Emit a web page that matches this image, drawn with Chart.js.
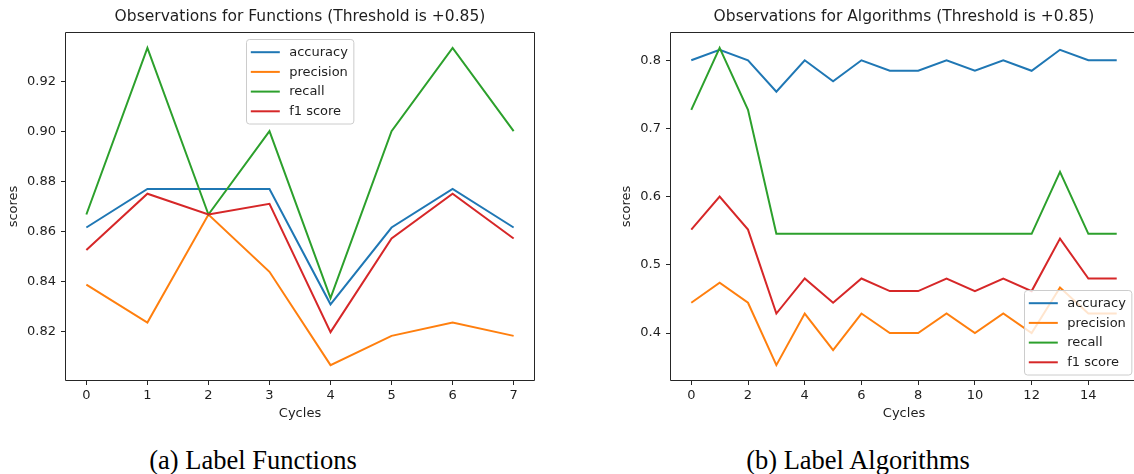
<!DOCTYPE html>
<html><head><meta charset="utf-8">
<script src="https://cdn.jsdelivr.net/npm/chart.js@4.4.1/dist/chart.umd.min.js"></script>
<style>
html,body{margin:0;padding:0;background:#fff;overflow:hidden;width:1134px;height:474px;}
#wrap{position:relative;width:1134px;height:474px;overflow:hidden;background:#fff;}
.cv{position:absolute;top:0;}
.cap{position:absolute;font-family:"Liberation Serif","Times New Roman",serif;font-size:26.5px;color:#000;white-space:nowrap;transform:translate(-50%,-50%);line-height:1;}
</style></head>
<body><div id="wrap">
<div class="cv" style="left:0px;width:560px;height:430px"><canvas id="c1" width="560" height="430"></canvas></div>
<div class="cv" style="left:600px;width:545px;height:430px"><canvas id="c2" width="545" height="430"></canvas></div>
<div class="cap" style="left:253px;top:460px">(a) Label Functions</div>
<div class="cap" style="left:858px;top:460px">(b) Label Algorithms</div>
</div>
<script>
// ---------- data ----------
const seriesNames = ['accuracy', 'precision', 'recall', 'f1 score'];
const seriesColors = ['#1f77b4', '#ff7f0e', '#2ca02c', '#d62728'];

// (a) Label Functions
const titleA = 'Observations for Functions (Threshold is +0.85)';
const cyclesA = [0, 1, 2, 3, 4, 5, 6, 7];
const accuracyA  = [0.8615, 0.8769, 0.8769, 0.8769, 0.8308, 0.8615, 0.8769, 0.8615];
const precisionA = [0.8387, 0.8235, 0.8667, 0.8438, 0.8065, 0.8182, 0.8235, 0.8182];
const recallA    = [0.8667, 0.9333, 0.8667, 0.9000, 0.8333, 0.9000, 0.9333, 0.9000];
const f1A        = [0.8525, 0.8750, 0.8667, 0.8710, 0.8197, 0.8571, 0.8750, 0.8571];
const xTicksA = [0, 1, 2, 3, 4, 5, 6, 7];
const yTicksA = [0.82, 0.84, 0.86, 0.88, 0.90, 0.92];
const yTickLabelsA = ['0.82', '0.84', '0.86', '0.88', '0.90', '0.92'];

// (b) Label Algorithms
const titleB = 'Observations for Algorithms (Threshold is +0.85)';
const cyclesB = [0, 1, 2, 3, 4, 5, 6, 7, 8, 9, 10, 11, 12, 13, 14, 15];
const accuracyB  = [0.8000, 0.8154, 0.8000, 0.7538, 0.8000, 0.7692, 0.8000, 0.7846, 0.7846, 0.8000, 0.7846, 0.8000, 0.7846, 0.8154, 0.8000, 0.8000];
const precisionB = [0.4444, 0.4737, 0.4444, 0.3529, 0.4286, 0.3750, 0.4286, 0.4000, 0.4000, 0.4286, 0.4000, 0.4286, 0.4000, 0.4667, 0.4286, 0.4286];
const recallB    = [0.7273, 0.8182, 0.7273, 0.5455, 0.5455, 0.5455, 0.5455, 0.5455, 0.5455, 0.5455, 0.5455, 0.5455, 0.5455, 0.6364, 0.5455, 0.5455];
const f1B        = [0.5517, 0.6000, 0.5517, 0.4286, 0.4800, 0.4444, 0.4800, 0.4615, 0.4615, 0.4800, 0.4615, 0.4800, 0.4615, 0.5385, 0.4800, 0.4800];
const xTicksB = [0, 2, 4, 6, 8, 10, 12, 14];
const yTicksB = [0.4, 0.5, 0.6, 0.7, 0.8];
const yTickLabelsB = ['0.4', '0.5', '0.6', '0.7', '0.8'];

// ---------- helpers ----------
const FONT = '"DejaVu Sans", "Liberation Sans", sans-serif';
const TXT = '#1e1e1e';

function padLimits(vals) {
  const lo = Math.min(...vals), hi = Math.max(...vals);
  const m = (hi - lo) * 0.05;
  return [lo - m, hi + m];
}

const frame = {
  id: 'frame',
  afterDatasetsDraw(chart, args, opts) {
    const {ctx, chartArea: a} = chart;
    ctx.save();
    ctx.strokeStyle = '#262626';
    ctx.lineWidth = 1;
    const l = Math.round(a.left) + 0.5, r = Math.round(a.right) - 0.5;
    const t = Math.round(a.top) + 0.5, b = Math.round(a.bottom) - 0.5;
    ctx.beginPath();
    ctx.moveTo(l, b); ctx.lineTo(l, t); ctx.lineTo(r, t);
    if (opts.right) ctx.lineTo(r, b); else ctx.moveTo(r, b);
    ctx.lineTo(l, b);
    ctx.stroke();
    ctx.restore();
  }
};

const mplLegend = {
  id: 'mplLegend',
  afterDraw(chart, args, opts) {
    const {ctx, chartArea: a} = chart;
    const fs = 13;
    ctx.save();
    ctx.font = fs + 'px ' + FONT;
    const ds = chart.data.datasets;
    const labels = ds.map(d => d.label);
    const tw = Math.max(...labels.map(l => ctx.measureText(l).width));
    const w = 42.7 + tw + 6;
    const rowH = 19.7;
    const h = 12.7 * 2 + rowH * (labels.length - 1);
    const pad = 6.5;
    let x, y;
    if (opts.loc === 'upper center') { x = (a.left + a.right) / 2 - w / 2; y = a.top + pad; }
    else { x = a.right - pad - w; y = a.bottom - pad - h; }
    x = Math.round(x) + 0.5; y = Math.round(y) + 0.5;
    const rr = 3;
    ctx.beginPath();
    ctx.moveTo(x + rr, y);
    ctx.arcTo(x + w, y, x + w, y + h, rr);
    ctx.arcTo(x + w, y + h, x, y + h, rr);
    ctx.arcTo(x, y + h, x, y, rr);
    ctx.arcTo(x, y, x + w, y, rr);
    ctx.closePath();
    ctx.fillStyle = 'rgba(255,255,255,0.8)';
    ctx.fill();
    ctx.strokeStyle = '#cccccc';
    ctx.lineWidth = 1;
    ctx.stroke();
    ctx.textBaseline = 'middle';
    ctx.textAlign = 'left';
    labels.forEach((lab, i) => {
      const cy = y + 12.7 + i * rowH;
      ctx.beginPath();
      ctx.moveTo(x + 4.3, cy); ctx.lineTo(x + 33.3, cy);
      ctx.strokeStyle = ds[i].borderColor; ctx.lineWidth = 2;
      ctx.stroke();
      ctx.fillStyle = TXT;
      ctx.fillText(lab, x + 42.7, cy + 0.5);
    });
    ctx.restore();
  }
};

function makeChart(id, o) {
  const seriesVals = [o.acc, o.prec, o.rec, o.f1];
  const datasets = seriesVals.map((vals, k) => ({
    label: seriesNames[k],
    data: o.cycles.map((c, i) => ({x: c, y: vals[i]})),
    borderColor: seriesColors[k],
    backgroundColor: seriesColors[k],
    borderWidth: 2,
    pointRadius: 0,
    tension: 0,
    fill: false,
    order: 3 - k
  }));
  const [xmin, xmax] = padLimits(o.cycles);
  const [ymin, ymax] = padLimits([].concat(...seriesVals));
  return new Chart(document.getElementById(id), {
    type: 'line',
    data: {datasets},
    options: {
      responsive: false,
      animation: false,
      events: [],
      layout: {padding: {left: 0, top: 0, right: o.padRight, bottom: 9}},
      plugins: {
        legend: {display: false},
        tooltip: {enabled: false},
        title: {
          display: true, text: o.title, fullSize: false, color: TXT,
          font: {family: FONT, size: 15.5, weight: 'normal', lineHeight: 1.2},
          padding: {top: 8, bottom: 5.4}
        },
        frame: {right: o.frameRight},
        mplLegend: {loc: o.legendLoc}
      },
      scales: {
        x: {
          type: 'linear', min: xmin, max: xmax,
          afterBuildTicks: s => { s.ticks = o.xTicks.map(v => ({value: v})); },
          afterFit: s => { s.height = 40; },
          ticks: {autoSkip: false, maxRotation: 0, padding: 3, color: TXT,
                  font: {family: FONT, size: 13},
                  callback: (v, i) => String(o.xTicks[i])},
          grid: {drawOnChartArea: false, drawTicks: true, tickLength: 4, color: '#262626', lineWidth: 1},
          border: {display: false},
          title: {display: true, text: 'Cycles', color: TXT, font: {family: FONT, size: 13}, padding: {top: 0, bottom: 0}}
        },
        y: {
          type: 'linear', min: ymin, max: ymax,
          afterBuildTicks: s => { s.ticks = o.yTicks.map(v => ({value: v})); },
          afterFit: s => { s.width = o.yWidth; },
          ticks: {autoSkip: false, padding: 5, color: TXT,
                  font: {family: FONT, size: 13},
                  callback: (v, i) => o.yLabels[i]},
          grid: {drawOnChartArea: false, drawTicks: true, tickLength: 4, color: '#262626', lineWidth: 1},
          border: {display: false},
          title: {display: true, text: 'scores', color: TXT, font: {family: FONT, size: 13}, padding: {top: o.yTitlePad, bottom: 0}}
        }
      }
    },
    plugins: [frame, mplLegend]
  });
}

makeChart('c1', {
  title: titleA, cycles: cyclesA, acc: accuracyA, prec: precisionA, rec: recallA, f1: f1A,
  xTicks: xTicksA, yTicks: yTicksA, yLabels: yTickLabelsA,
  padRight: 25, yWidth: 65, yTitlePad: 6.2, frameRight: true, legendLoc: 'upper center'
});
makeChart('c2', {
  title: titleB, cycles: cyclesB, acc: accuracyB, prec: precisionB, rec: recallB, f1: f1B,
  xTicks: xTicksB, yTicks: yTicksB, yLabels: yTickLabelsB,
  padRight: 7, yWidth: 70, yTitlePad: 18.9, frameRight: true, legendLoc: 'lower right'
});
</script>
</body></html>
